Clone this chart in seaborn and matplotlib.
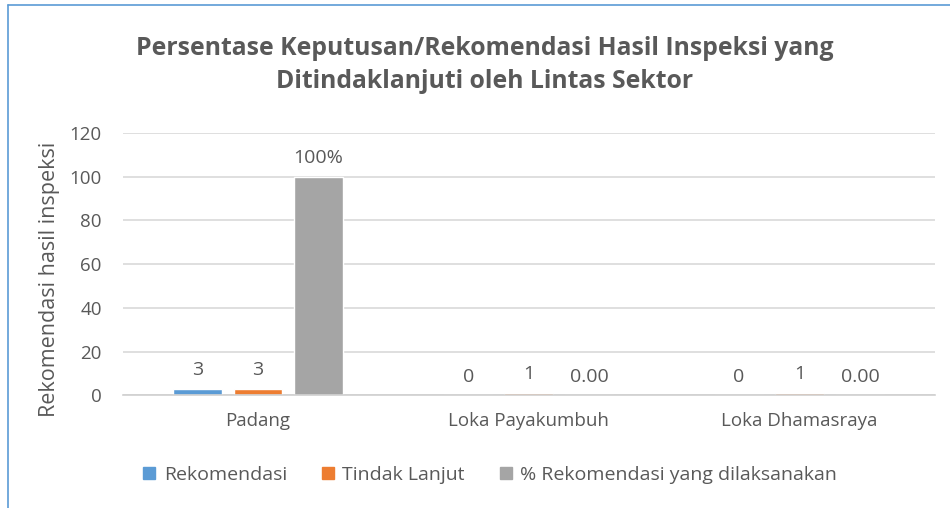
import seaborn as sns
import matplotlib.pyplot as plt
import pandas as pd
from matplotlib.lines import Line2D

# Data
lokasi = ['Padang', 'Loka Payakumbuh', 'Loka Dhamasraya']
seri = ['Rekomendasi', 'Tindak Lanjut', '% Rekomendasi yang dilaksanakan']
rekomendasi = [3, 0, 0]
tindak_lanjut = [3, 1, 1]
persen_dilaksanakan = [100, 0, 0]
label_rekomendasi = ['3', '0', '0']
label_tindak_lanjut = ['3', '1', '1']
label_persen = ['100%', '0.00', '0.00']
yticks = [0, 20, 40, 60, 80, 100, 120]

warna = ['#5B9BD5', '#ED7D31', '#A5A5A5']
teks = '#595959'

df = pd.DataFrame({
    'lokasi': lokasi * 3,
    'seri': [seri[0]] * 3 + [seri[1]] * 3 + [seri[2]] * 3,
    'nilai': rekomendasi + tindak_lanjut + persen_dilaksanakan,
})

sns.set_theme(style='white')
plt.rcParams['font.family'] = ['Open Sans', 'DejaVu Sans']

fig = plt.figure(figsize=(9.5, 5.08), dpi=100)
ax = fig.add_axes([0.129, 0.222, 0.855, 0.516])

sns.barplot(data=df, x='lokasi', y='nilai', hue='seri', palette=warna,
            width=0.67, gap=0.2, ax=ax, legend=False, saturation=1)

ax.set_ylim(0, 120)
ax.set_yticks(yticks)
ax.set_xlim(-0.5, 2.5)
ax.grid(axis='y', color='#D9D9D9', linewidth=1.2)
ax.set_axisbelow(True)
sns.despine(ax=ax, left=True, top=True, right=True)
ax.spines['bottom'].set_color('#D0D0D0')
ax.spines['bottom'].set_linewidth(1.2)
ax.tick_params(length=0, labelsize=13.5, colors=teks)
ax.tick_params(axis='y', pad=15)
ax.tick_params(axis='x', pad=12)
ax.set_xlabel('')
ax.set_ylabel('Rekomendasi hasil inspeksi', fontsize=15.5, color=teks, va='center')
ax.yaxis.set_label_coords(-0.09, 0.443)

for cont, labs in zip(ax.containers, [label_rekomendasi, label_tindak_lanjut, label_persen]):
    ax.bar_label(cont, labels=labs, padding=7, fontsize=14, color=teks)

fig.text(0.51, 0.873, 'Persentase Keputusan/Rekomendasi Hasil Inspeksi yang\nDitindaklanjuti oleh Lintas Sektor',
         ha='center', va='center', fontsize=17.8, fontweight='bold', color=teks,
         linespacing=1.42)

handles = [Line2D([0], [0], marker='s', linestyle='', markersize=8,
                  markerfacecolor=c, markeredgecolor=c) for c in warna]
fig.legend(handles, seri, loc='center', bbox_to_anchor=(0.514, 0.065), ncol=3,
           frameon=False, fontsize=14, labelcolor=teks, handletextpad=0.25,
           handlelength=1.0, columnspacing=1.6)

# blue frame lines of the original chart object
fig.add_artist(Line2D([8 / 950, 8 / 950], [0, 1 - 5 / 508], color='#5B9BD5', linewidth=1.2))
fig.add_artist(Line2D([8 / 950, 1], [1 - 5 / 508, 1 - 5 / 508], color='#5B9BD5', linewidth=1.2))

plt.savefig('out.png', dpi=100)
